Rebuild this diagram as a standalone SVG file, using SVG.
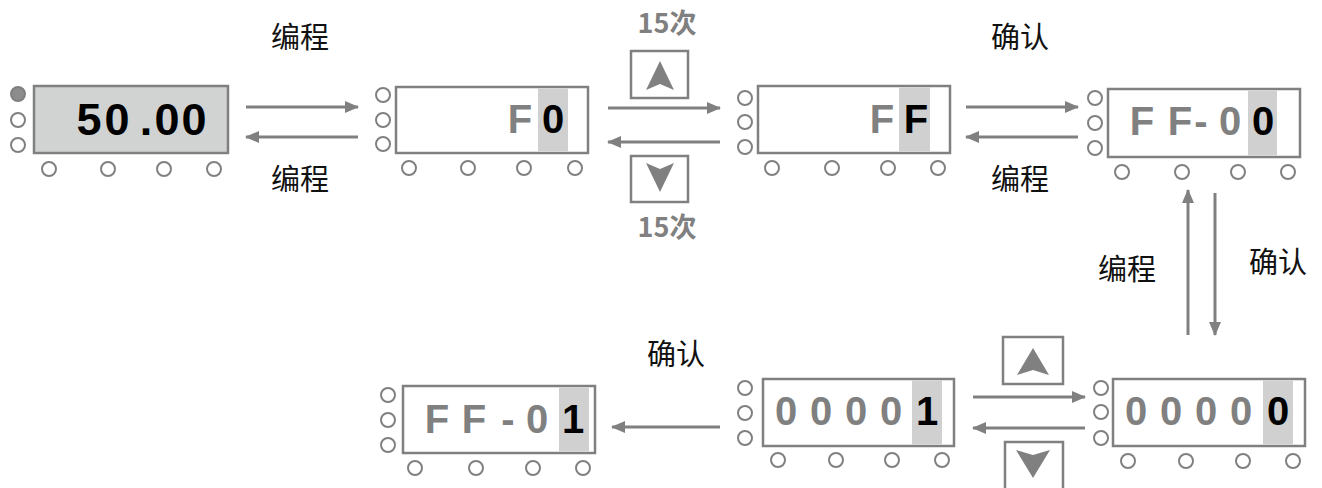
<svg xmlns="http://www.w3.org/2000/svg" width="1322" height="488" viewBox="0 0 1322 488">
<style>
.box{fill:#fff;stroke:#808080;stroke-width:2.5}
.box1{fill:#d1d2d2;stroke:#808080;stroke-width:2.5}
.hl{fill:#d0d0d0}
.led{fill:#fff;stroke:#808080;stroke-width:2}
.ledon{fill:#8c8c8c;stroke:#808080;stroke-width:2}
.g{font-family:"Liberation Sans",Arial,sans-serif;font-weight:bold;fill:#808080;text-anchor:middle}
.k{font-family:"Liberation Sans",Arial,sans-serif;font-weight:bold;fill:#000;text-anchor:middle}
.lbl{font-family:"Noto Sans CJK SC",sans-serif;font-size:29px;fill:#111;text-anchor:middle}
.cnt{font-family:"Noto Sans CJK SC",sans-serif;font-size:27px;fill:#808080;text-anchor:middle;font-weight:bold}
.ln{stroke:#808080;stroke-width:3;fill:none;marker-end:url(#ah)}
.key{fill:#fff;stroke:#808080;stroke-width:2.5}
.tri{fill:#808080}
</style>
<defs>
<marker id="ah" viewBox="0 0 14 12" refX="13" refY="6" markerWidth="14" markerHeight="12" markerUnits="userSpaceOnUse" orient="auto">
<path d="M0,0 L14,6 L0,12 Z" fill="#808080"/>
</marker>
</defs>

<g id="node1">
<rect class="box1" x="34" y="86" width="194" height="67"/>
<circle class="ledon" cx="18" cy="94" r="7"/>
<circle class="led" cx="18" cy="120" r="7"/>
<circle class="led" cx="18" cy="145" r="7"/>
<circle class="led" cx="49" cy="169" r="7"/>
<circle class="led" cx="108" cy="169" r="7"/>
<circle class="led" cx="164" cy="169" r="7"/>
<circle class="led" cx="214" cy="169" r="7"/>
<g class="k" font-size="45">
<text x="89" y="135">5</text><text x="117" y="135">0</text><text x="146" y="135">.</text><text x="167" y="135">0</text><text x="194" y="135">0</text>
</g>
</g>

<g id="node2">
<rect class="box" x="396" y="87" width="192" height="66"/>
<rect class="hl" x="538" y="88.5" width="30" height="63"/>
<circle class="led" cx="383" cy="95" r="7"/>
<circle class="led" cx="383" cy="120" r="7"/>
<circle class="led" cx="383" cy="144" r="7"/>
<circle class="led" cx="409" cy="168" r="7"/>
<circle class="led" cx="468" cy="168" r="7"/>
<circle class="led" cx="524" cy="168" r="7"/>
<circle class="led" cx="575" cy="168" r="7"/>
<text class="g" font-size="40" x="520" y="133">F</text>
<text class="k" font-size="40" x="553" y="133">0</text>
</g>

<g id="node3">
<rect class="box" x="758" y="86" width="192" height="67"/>
<rect class="hl" x="899" y="87.5" width="31" height="64"/>
<circle class="led" cx="745" cy="98" r="7"/>
<circle class="led" cx="745" cy="122" r="7"/>
<circle class="led" cx="745" cy="147" r="7"/>
<circle class="led" cx="772" cy="168" r="7"/>
<circle class="led" cx="832" cy="168" r="7"/>
<circle class="led" cx="888" cy="168" r="7"/>
<circle class="led" cx="938" cy="168" r="7"/>
<text class="g" font-size="40" x="882" y="133">F</text>
<text class="k" font-size="40" x="916" y="133">F</text>
</g>

<g id="node4">
<rect class="box" x="1108" y="89" width="192" height="68"/>
<rect class="hl" x="1248" y="90.5" width="29" height="65"/>
<circle class="led" cx="1095" cy="98" r="7"/>
<circle class="led" cx="1095" cy="123" r="7"/>
<circle class="led" cx="1095" cy="148" r="7"/>
<circle class="led" cx="1122" cy="172" r="7"/>
<circle class="led" cx="1182" cy="172" r="7"/>
<circle class="led" cx="1238" cy="172" r="7"/>
<circle class="led" cx="1288" cy="172" r="7"/>
<g class="g" font-size="40">
<text x="1142" y="135">F</text><text x="1180" y="135">F</text><text x="1201" y="135">-</text><text x="1230" y="135">0</text>
</g>
<text class="k" font-size="40" x="1263" y="135">0</text>
</g>

<g id="node5">
<rect class="box" x="403" y="386" width="192" height="67"/>
<rect class="hl" x="559" y="387.5" width="30" height="64"/>
<circle class="led" cx="388" cy="395" r="7"/>
<circle class="led" cx="388" cy="420" r="7"/>
<circle class="led" cx="388" cy="445" r="7"/>
<circle class="led" cx="415" cy="468" r="7"/>
<circle class="led" cx="476" cy="468" r="7"/>
<circle class="led" cx="533" cy="468" r="7"/>
<circle class="led" cx="583" cy="468" r="7"/>
<g class="g" font-size="40">
<text x="437" y="433">F</text><text x="474" y="433">F</text><text x="508" y="433">-</text><text x="537" y="433">0</text>
</g>
<text class="k" font-size="40" x="573" y="433">1</text>
</g>

<g id="node6">
<rect class="box" x="763" y="379" width="191" height="67"/>
<rect class="hl" x="912" y="380.5" width="30" height="64"/>
<circle class="led" cx="745" cy="388" r="7"/>
<circle class="led" cx="745" cy="413" r="7"/>
<circle class="led" cx="745" cy="438" r="7"/>
<circle class="led" cx="778" cy="460" r="7"/>
<circle class="led" cx="836" cy="460" r="7"/>
<circle class="led" cx="892" cy="460" r="7"/>
<circle class="led" cx="942" cy="460" r="7"/>
<g class="g" font-size="40">
<text x="786" y="425">0</text><text x="821" y="425">0</text><text x="856" y="425">0</text><text x="891" y="425">0</text>
</g>
<text class="k" font-size="40" x="927" y="425">1</text>
</g>

<g id="node7">
<rect class="box" x="1113" y="379" width="192" height="67"/>
<rect class="hl" x="1263" y="380.5" width="30" height="64"/>
<circle class="led" cx="1101" cy="388" r="7"/>
<circle class="led" cx="1101" cy="412" r="7"/>
<circle class="led" cx="1101" cy="438" r="7"/>
<circle class="led" cx="1128" cy="461" r="7"/>
<circle class="led" cx="1186" cy="461" r="7"/>
<circle class="led" cx="1243" cy="461" r="7"/>
<circle class="led" cx="1293" cy="461" r="7"/>
<g class="g" font-size="40">
<text x="1136" y="425">0</text><text x="1171" y="425">0</text><text x="1206" y="425">0</text><text x="1241" y="425">0</text>
</g>
<text class="k" font-size="40" x="1278" y="425">0</text>
</g>

<g id="keys">
<rect class="key" x="631" y="51" width="57" height="47"/>
<path class="tri" d="M660,61 L674,90 L660,84 L646,90 Z"/>
<rect class="key" x="631" y="156" width="57" height="46"/>
<path class="tri" d="M660,192 L674,163 L660,169 L646,163 Z"/>
<rect class="key" x="1003" y="337" width="60" height="47"/>
<path class="tri" d="M1033,348 L1049,375 L1033,370 L1017,375 Z"/>
<rect class="key" x="1005" y="442" width="58" height="48"/>
<path class="tri" d="M1033,478 L1050,450 L1033,455 L1016,450 Z"/>
</g>

<g id="connectors">
<line class="ln" x1="246" y1="107" x2="358" y2="107"/>
<line class="ln" x1="358" y1="137" x2="246" y2="137"/>
<line class="ln" x1="608" y1="108" x2="720" y2="108"/>
<line class="ln" x1="720" y1="142" x2="608" y2="142"/>
<line class="ln" x1="966" y1="107" x2="1078" y2="107"/>
<line class="ln" x1="1078" y1="137" x2="966" y2="137"/>
<line class="ln" x1="1188" y1="335" x2="1188" y2="190"/>
<line class="ln" x1="1215" y1="193" x2="1215" y2="335"/>
<line class="ln" x1="973" y1="397" x2="1085" y2="397"/>
<line class="ln" x1="1085" y1="428" x2="973" y2="428"/>
<line class="ln" x1="720" y1="427" x2="612" y2="427"/>
</g>

<g id="labels">
<text class="lbl" x="300" y="48">编程</text>
<text class="lbl" x="300" y="190">编程</text>
<text class="cnt" x="667" y="33">15次</text>
<text class="cnt" x="667" y="237">15次</text>
<text class="lbl" x="1020" y="48">确认</text>
<text class="lbl" x="1020" y="190">编程</text>
<text class="lbl" x="1127" y="280">编程</text>
<text class="lbl" x="1278" y="273">确认</text>
<text class="lbl" x="676" y="365">确认</text>
</g>
</svg>
